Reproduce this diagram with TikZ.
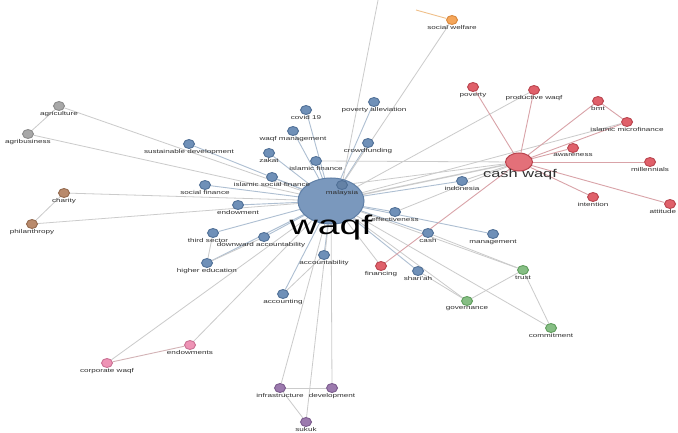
\documentclass[tikz,border=0pt]{standalone}
\usepackage{fontspec}
\setmainfont{Liberation Sans}
\usetikzlibrary{shapes.geometric,backgrounds}
\definecolor{nblue}{HTML}{6F90B8}\definecolor{nblueD}{HTML}{4F6F96}
\definecolor{bigblue}{HTML}{7A98BD}\definecolor{bigblueD}{HTML}{5F7FA6}
\definecolor{nred}{HTML}{E0606A}\definecolor{nredD}{HTML}{B8434D}
\definecolor{ngreen}{HTML}{86BE84}\definecolor{ngreenD}{HTML}{5E9C5C}
\definecolor{ngray}{HTML}{A8A8A8}\definecolor{ngrayD}{HTML}{8A8A8A}
\definecolor{nbrown}{HTML}{B98A6C}\definecolor{nbrownD}{HTML}{93694E}
\definecolor{npink}{HTML}{EE93B5}\definecolor{npinkD}{HTML}{C96F92}
\definecolor{npurple}{HTML}{9C7AAE}\definecolor{npurpleD}{HTML}{7A5A8C}
\definecolor{norange}{HTML}{F5A65A}\definecolor{norangeD}{HTML}{D8873C}
\definecolor{egray}{HTML}{CBCBCB}\definecolor{eblue}{HTML}{AEBFD2}
\definecolor{ered}{HTML}{D9A3A8}\definecolor{eorange}{HTML}{F0C08A}
\definecolor{labc}{HTML}{303030}
\newcommand\lbl[1]{\scalebox{1.45}[1]{#1}}
\tikzset{
 nd/.style={ellipse, minimum width=11pt, minimum height=9pt, inner sep=0pt, line width=0.9pt},
 bl/.style={nd, fill=nblue, draw=nblueD},
 rd/.style={nd, fill=nred, draw=nredD},
 gr/.style={nd, fill=ngreen, draw=ngreenD},
 gy/.style={nd, fill=ngray, draw=ngrayD},
 br/.style={nd, fill=nbrown, draw=nbrownD},
 pk/.style={nd, fill=npink, draw=npinkD},
 pu/.style={nd, fill=npurple, draw=npurpleD},
 og/.style={nd, fill=norange, draw=norangeD},
 lab/.style={font=\fontsize{5.6}{6}\selectfont, text=labc, inner sep=0.6pt},
 e/.style={draw=egray, line width=0.8pt},
 eb/.style={draw=eblue, line width=0.9pt},
 er/.style={draw=ered, line width=0.9pt},
 eo/.style={draw=eorange, line width=0.9pt},
}
\begin{document}
\begin{tikzpicture}[x=1pt,y=1pt]
\useasboundingbox (0,0) rectangle (678,-433);
\clip (0,0) rectangle (678,-433);
% nodes
\node[ellipse, minimum width=66pt, minimum height=46pt, inner sep=0pt, fill=bigblue, draw=bigblueD, line width=1pt] (waqf) at (331,-201) {};
\node[bl, fill=nblue!90!black, label={[lab]below:\lbl{malaysia}}] (malaysia) at (342,-185) {};
\node[font=\fontsize{27}{27}\selectfont, text=black, anchor=base, inner sep=0pt] (waqflab) at (331,-235) {\lbl{waqf}};
\node[bl, label={[lab]below:\lbl{covid 19}}] (covid) at (306,-110) {};
\node[bl, label={[lab]below:\lbl{poverty alleviation}}] (povall) at (374,-102) {};
\node[bl, label={[lab]below:\lbl{waqf management}}] (waqfman) at (293,-131) {};
\node[bl, label={[lab]below:\lbl{crowdfunding}}] (crowd) at (368,-143) {};
\node[bl, label={[lab]below:\lbl{zakat}}] (zakat) at (269,-153) {};
\node[bl, label={[lab]below:\lbl{islamic finance}}] (isfin) at (316,-161) {};
\node[bl, label={[lab]below:\lbl{islamic social finance}}] (issocfin) at (272,-177) {};
\node[bl, label={[lab]below:\lbl{social finance}}] (socfin) at (205,-185) {};
\node[bl, label={[lab]below:\lbl{sustainable development}}] (susdev) at (189,-144) {};
\node[bl, label={[lab]below:\lbl{endowment}}] (endow) at (238,-205) {};
\node[bl, label={[lab, xshift=-5pt]below:\lbl{third sector}}] (third) at (213,-233) {};
\node[bl, label={[lab, xshift=-3pt]below:\lbl{downward accountability}}] (downacc) at (264,-237) {};
\node[bl, label={[lab]below:\lbl{higher education}}] (higher) at (207,-263) {};
\node[bl, label={[lab]below:\lbl{accountability}}] (accb) at (324,-255) {};
\node[bl, label={[lab]below:\lbl{accounting}}] (accounting) at (283,-294) {};
\node[bl, label={[lab]below:\lbl{effectiveness}}] (effect) at (395,-212) {};
\node[bl, label={[lab]below:\lbl{indonesia}}] (indo) at (462,-181) {};
\node[bl, label={[lab]below:\lbl{cash}}] (cash) at (428,-233) {};
\node[bl, label={[lab]below:\lbl{management}}] (manage) at (493,-234) {};
\node[bl, label={[lab]below:\lbl{shari'ah}}] (shariah) at (418,-271) {};
% red
\node[ellipse, minimum width=27pt, minimum height=18pt, inner sep=0pt, fill=nred!90!white, draw=nredD, line width=1pt] (cashwaqf) at (519,-162) {};
\node[font=\fontsize{11.3}{12}\selectfont, text=labc, anchor=base, inner sep=0pt] (cwlab) at (520,-178) {\lbl{cash waqf}};
\node[rd, label={[lab]below:\lbl{poverty}}] (poverty) at (473,-87) {};
\node[rd, label={[lab]below:\lbl{productive waqf}}] (prodwaqf) at (534,-90) {};
\node[rd, label={[lab]below:\lbl{bmt}}] (bmt) at (598,-101) {};
\node[rd, label={[lab]below:\lbl{islamic microfinance}}] (ismicro) at (627,-122) {};
\node[rd, label={[lab]below:\lbl{awareness}}] (aware) at (573,-148) {};
\node[rd, label={[lab]below:\lbl{millennials}}] (millen) at (650,-162) {};
\node[rd, label={[lab]below:\lbl{intention}}] (intent) at (593,-197) {};
\node[rd, label={[lab, anchor=north east, xshift=7pt]below:\lbl{attitude}}] (attitude) at (670,-204) {};
\node[rd, label={[lab]below:\lbl{financing}}] (financing) at (381,-266) {};
% green
\node[gr, label={[lab]below:\lbl{trust}}] (trust) at (523,-270) {};
\node[gr, label={[lab]below:\lbl{governance}}] (governance) at (467,-301) {};
\node[gr, label={[lab]below:\lbl{commitment}}] (commitment) at (551,-328) {};
% gray, brown
\node[gy, label={[lab]below:\lbl{agriculture}}] (agri) at (59,-106) {};
\node[gy, label={[lab]below:\lbl{agribusiness}}] (agribus) at (28,-134) {};
\node[br, label={[lab]below:\lbl{charity}}] (charity) at (64,-193) {};
\node[br, label={[lab]below:\lbl{philanthropy}}] (philan) at (32,-224) {};
% pink, purple, orange
\node[pk, label={[lab]below:\lbl{corporate waqf}}] (corpwaqf) at (107,-363) {};
\node[pk, label={[lab]below:\lbl{endowments}}] (endowments) at (190,-345) {};
\node[pu, label={[lab]below:\lbl{infrastructure}}] (infra) at (280,-388) {};
\node[pu, label={[lab]below:\lbl{development}}] (develop) at (332,-388) {};
\node[pu, label={[lab]below:\lbl{sukuk}}] (sukuk) at (306,-422) {};
\node[og, label={[lab]below:\lbl{social welfare}}] (socwelf) at (452,-20) {};
\coordinate (top2) at (416,-10);
\coordinate (top3) at (380,10);
% edges
\begin{scope}[on background layer]
\fill[white] (0,0) rectangle (678,-433);
\foreach \n in {covid,povall,waqfman,crowd,zakat,isfin,issocfin,socfin,susdev,endow,third,downacc,higher,accb,accounting,effect,indo,cash,manage,shariah}
  \draw[eb] (waqf.center) -- (\n);
\foreach \n in {prodwaqf,ismicro,financing,trust,governance,commitment,agri,agribus,charity,philan,corpwaqf,endowments,infra,develop,sukuk,socwelf}
  \draw[e] (waqf.center) -- (\n);
\draw[e] (malaysia.center) -- (top3);
\draw[eo] (socwelf) -- (top2);
\draw[e, line width=1.4pt] (waqf.center) -- (cashwaqf);
\draw[e] (malaysia.center) -- (cashwaqf);
\draw[e] (isfin) -- (cashwaqf);
\draw[e] (indo) -- (cashwaqf);
\draw[e] (effect) -- (cashwaqf);
\draw[er] (financing) -- (cashwaqf);
\foreach \n in {poverty,prodwaqf,bmt,aware,millen,intent,attitude,ismicro}
  \draw[er] (cashwaqf) -- (\n);
\draw[er] (bmt) -- (ismicro);
\draw[e] (agri) -- (agribus);
\draw[e] (charity) -- (philan);
\draw[draw=ered!60!egray, line width=0.9pt] (corpwaqf) -- (endowments);
\draw[e] (infra) -- (develop);
\draw[e] (infra) -- (sukuk);
\draw[e] (third) -- (higher);
\draw[e] (higher) -- (downacc);
\draw[e] (accb) -- (accounting);
\draw[e] (cash) -- (trust);
\draw[e] (trust) -- (governance);
\draw[e] (trust) -- (commitment);
\draw[e] (shariah) -- (governance);
\end{scope}
\end{tikzpicture}
\end{document}
